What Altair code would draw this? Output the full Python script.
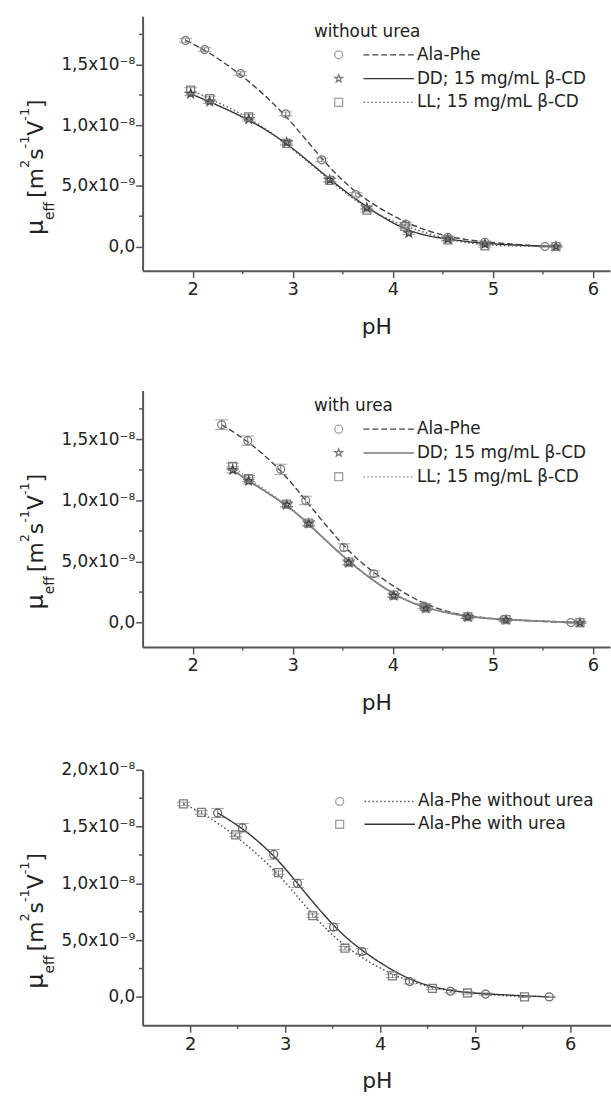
import altair as alt
import pandas as pd

FONT = "DejaVu Sans"
TXT = "#222222"
AX = "#555555"
MK = "#7a7a7a"

# ---------------- data (mobility in m^2 s^-1 V^-1) ----------------
# Panel 1 : without urea
p1_ala_ph = [1.93, 2.12, 2.48, 2.93, 3.29, 3.63, 4.13, 4.55, 4.92, 5.52]
p1_ala_mu = [1.70e-8, 1.625e-8, 1.427e-8, 1.095e-8, 7.15e-9, 4.29e-9, 1.85e-9, 0.75e-9, 0.35e-9, 0.0]
p1_ala_err = [0.15e-9, 0.15e-9, 0.15e-9, 0.15e-9, 0.15e-9, 0.15e-9, 0.15e-9, 0.1e-9, 0.1e-9, 0.05e-9]

p1_dd_ph = [1.98, 2.17, 2.56, 2.94, 3.37, 3.74, 4.16, 4.55, 4.92, 5.63]
p1_dd_mu = [1.26e-8, 1.195e-8, 1.05e-8, 8.6e-9, 5.5e-9, 3.2e-9, 1.1e-9, 0.6e-9, 0.2e-9, 0.0]
p1_dd_err = [0.15e-9, 0.15e-9, 0.15e-9, 0.15e-9, 0.15e-9, 0.15e-9, 0.1e-9, 0.1e-9, 0.1e-9, 0.05e-9]

p1_ll_ph = [1.98, 2.17, 2.56, 2.94, 3.37, 3.74, 4.12, 4.55, 4.92, 5.63]
p1_ll_mu = [1.29e-8, 1.22e-8, 1.07e-8, 8.5e-9, 5.45e-9, 3.0e-9, 1.65e-9, 0.55e-9, 0.05e-9, 0.0]
p1_ll_err = [0.2e-9, 0.2e-9, 0.2e-9, 0.15e-9, 0.15e-9, 0.15e-9, 0.15e-9, 0.1e-9, 0.1e-9, 0.05e-9]

# Panel 2 : with urea
p2_ala_ph = [2.29, 2.55, 2.88, 3.13, 3.51, 3.81, 4.31, 4.74, 5.11, 5.78]
p2_ala_mu = [1.62e-8, 1.49e-8, 1.255e-8, 1.0e-8, 6.15e-9, 4.0e-9, 1.35e-9, 0.5e-9, 0.25e-9, 0.0]
p2_ala_err = [0.4e-9, 0.38e-9, 0.42e-9, 0.35e-9, 0.3e-9, 0.25e-9, 0.2e-9, 0.15e-9, 0.1e-9, 0.05e-9]

p2_dd_ph = [2.40, 2.56, 2.94, 3.16, 3.56, 4.01, 4.33, 4.75, 5.13, 5.87]
p2_dd_mu = [1.25e-8, 1.16e-8, 9.65e-9, 8.1e-9, 4.9e-9, 2.2e-9, 1.15e-9, 0.45e-9, 0.22e-9, 0.0]
p2_dd_err = [0.25e-9, 0.25e-9, 0.2e-9, 0.2e-9, 0.2e-9, 0.15e-9, 0.15e-9, 0.1e-9, 0.1e-9, 0.05e-9]

p2_ll_ph = [2.40, 2.56, 2.94, 3.16, 3.56, 4.01, 4.33, 4.75, 5.13, 5.87]
p2_ll_mu = [1.28e-8, 1.18e-8, 9.7e-9, 8.15e-9, 4.95e-9, 2.25e-9, 1.2e-9, 0.48e-9, 0.25e-9, 0.0]
p2_ll_err = [0.25e-9, 0.25e-9, 0.2e-9, 0.2e-9, 0.2e-9, 0.15e-9, 0.15e-9, 0.1e-9, 0.1e-9, 0.05e-9]

# axis ticks and labels
x_ticks = [2, 3, 4, 5, 6]
x_minor = [2.5, 3.5, 4.5, 5.5]
y_ticks_12 = [0.0, 5e-9, 1e-8, 1.5e-8]
y_labels_12 = ["0,0", "5,0x10\u207b\u2079", "1,0x10\u207b\u2078", "1,5x10\u207b\u2078"]
y_minor_12 = [2.5e-9, 7.5e-9, 1.25e-8, 1.75e-8]
y_ticks_3 = [0.0, 5e-9, 1e-8, 1.5e-8, 2e-8]
y_labels_3 = ["0,0", "5,0x10\u207b\u2079", "1,0x10\u207b\u2078", "1,5x10\u207b\u2078", "2,0x10\u207b\u2078"]
y_minor_3 = [2.5e-9, 7.5e-9, 1.25e-8, 1.75e-8]

STAR = ("M0,-1L0.235,-0.324L0.951,-0.309L0.38,0.124L0.588,0.809L0,0.4"
        "L-0.588,0.809L-0.38,0.124L-0.951,-0.309L-0.235,-0.324Z")

DASHED = [6, 3]
DOTTED = [1.5, 2.5]
SOLID = [1, 0]

ONE = pd.DataFrame({"a": [0]})


def label_expr(vals, labels):
    parts = [f"round(datum.value*1e10) == {round(v * 1e10)} ? '{l}'" for v, l in zip(vals, labels)]
    return " : ".join(parts) + " : ''"


def panel(series, legend_title, legend_rows, xdom, ydom, yticks, ylabels, yminor,
          W, H, lx):
    xs = alt.Scale(domain=xdom, nice=False, zero=False)
    ys = alt.Scale(domain=ydom, nice=False, zero=False)
    xaxis = alt.Axis(values=x_ticks, format="d", title="pH", grid=False,
                     tickSize=7, tickWidth=1.5, tickColor=AX, domainColor=AX, domainWidth=2,
                     labelFont=FONT, labelFontSize=18, labelColor=TXT, labelPadding=3,
                     titleFont=FONT, titleFontSize=22, titleFontWeight="normal",
                     titleColor=TXT, titlePadding=18)
    yaxis = alt.Axis(values=yticks, labelExpr=label_expr(yticks, ylabels), title=None,
                     grid=False, tickSize=7, tickWidth=1.5, tickColor=AX, domainColor=AX,
                     domainWidth=2, labelFont=FONT, labelFontSize=17, labelColor=TXT,
                     labelPadding=1)
    X = lambda f: alt.X(f, scale=xs, axis=xaxis)
    Y = lambda f: alt.Y(f, scale=ys, axis=yaxis)

    lines, bars, pts = [], [], []
    for s in series:
        df = pd.DataFrame({"pH": s["ph"], "mu": s["mu"]})
        df["lo"] = [m - e for m, e in zip(s["mu"], s["err"])]
        df["hi"] = [m + e for m, e in zip(s["mu"], s["err"])]
        base = alt.Chart(df)
        lines.append(base.mark_line(interpolate="basis", color=s["lc"],
                                    strokeWidth=s.get("lw", 1.4), strokeDash=s["dash"])
                     .encode(x=X("pH:Q"), y=Y("mu:Q")))
        bars.append(base.mark_rule(color=MK, strokeWidth=1).encode(
            x=X("pH:Q"), y=Y("lo:Q"), y2="hi:Q"))
        for f in ["lo", "hi"]:
            bars.append(base.mark_tick(orient="horizontal", color=MK, size=13, thickness=1)
                        .encode(x=X("pH:Q"), y=Y(f + ":Q")))
        pts.append(base.mark_point(shape=s["shape"], size=s.get("size", 64), filled=False,
                                   color=s["mc"], strokeWidth=1.3, opacity=1)
                   .encode(x=X("pH:Q"), y=Y("mu:Q")))

    minors = [
        alt.Chart(pd.DataFrame({"v": yminor})).mark_rule(color=AX, strokeWidth=1.5)
        .encode(y=Y("v:Q"), x=alt.value(0), x2=alt.value(-3.5)),
        alt.Chart(pd.DataFrame({"v": x_minor})).mark_rule(color=AX, strokeWidth=1.5)
        .encode(x=X("v:Q"), y=alt.value(H), y2=alt.value(H + 3.5)),
    ]

    leg = []
    if legend_title:
        leg.append(alt.Chart(ONE).mark_text(font=FONT, fontSize=17, color=TXT, align="left",
                                            baseline="middle")
                   .encode(x=alt.value(lx - 25), y=alt.value(16), text=alt.value(legend_title)))
    for (txt, shape, dash, lc, mc, ly) in legend_rows:
        leg.append(alt.Chart(ONE).mark_point(shape=shape, size=64, filled=False, color=mc,
                                             strokeWidth=1.3)
                   .encode(x=alt.value(lx), y=alt.value(ly)))
        leg.append(alt.Chart(ONE).mark_rule(color=lc, strokeWidth=1.4, strokeDash=dash)
                   .encode(x=alt.value(lx + 25), x2=alt.value(lx + 76), y=alt.value(ly)))
        leg.append(alt.Chart(ONE).mark_text(font=FONT, fontSize=17, color=TXT, align="left",
                                            baseline="middle")
                   .encode(x=alt.value(lx + 79), y=alt.value(ly), text=alt.value(txt)))

    # rotated y title: mu_eff [m^2 s^-1 V^-1]
    pieces = [("\u03bc", 24, 0.636, -101, 0),
              ("eff", 14, 1.319, -89, 4),
              ("[m", 22, 1.364, -101, 0),
              ("2", 13, 0.636, -115, 0),
              ("s", 22, 0.521, -101, 0),
              ("-1", 13, 0.997, -115, 0),
              ("V", 22, 0.684, -101, 0),
              ("-1", 13, 0.997, -115, 0),
              ("]", 22, 0.390, -101, 0)]
    ttl = []
    y0 = 221
    for (t, fs, em, bx, gap) in pieces:
        ttl.append(alt.Chart(ONE).mark_text(font=FONT, fontSize=fs, color=TXT, angle=270,
                                            align="left", baseline="alphabetic")
                   .encode(x=alt.value(bx), y=alt.value(y0), text=alt.value(t)))
        y0 -= fs * em + gap

    return alt.layer(*minors, *lines, *bars, *pts, *leg, *ttl).properties(width=W, height=H)


p1 = panel(
    [dict(ph=p1_ala_ph, mu=p1_ala_mu, err=p1_ala_err, shape="circle", dash=DASHED, lc="#444444", mc=MK),
     dict(ph=p1_dd_ph, mu=p1_dd_mu, err=p1_dd_err, shape=STAR, dash=SOLID, lc="#333333", mc="#444444", size=80),
     dict(ph=p1_ll_ph, mu=p1_ll_mu, err=p1_ll_err, shape="square", dash=DOTTED, lc="#555555", mc=MK)],
    "without urea",
    [("Ala-Phe", "circle", DASHED, "#444444", MK, 39),
     ("DD; 15 mg/mL \u03b2-CD", STAR, SOLID, "#333333", "#444444", 63),
     ("LL; 15 mg/mL \u03b2-CD", "square", DOTTED, "#666666", MK, 87)],
    [1.5, 6.17], [-2e-9, 1.9e-8], y_ticks_12, y_labels_12, y_minor_12, 472, 257, 198)

p2 = panel(
    [dict(ph=p2_ala_ph, mu=p2_ala_mu, err=p2_ala_err, shape="circle", dash=DASHED, lc="#444444", mc=MK),
     dict(ph=p2_dd_ph, mu=p2_dd_mu, err=p2_dd_err, shape=STAR, dash=SOLID, lc="#7a7a7a", mc="#444444", size=80, lw=1.8),
     dict(ph=p2_ll_ph, mu=p2_ll_mu, err=p2_ll_err, shape="square", dash=DOTTED, lc="#999999", mc=MK)],
    "with urea",
    [("Ala-Phe", "circle", DASHED, "#444444", MK, 39),
     ("DD; 15 mg/mL \u03b2-CD", STAR, SOLID, "#7a7a7a", "#444444", 63),
     ("LL; 15 mg/mL \u03b2-CD", "square", DOTTED, "#999999", MK, 87)],
    [1.5, 6.17], [-2e-9, 1.9e-8], y_ticks_12, y_labels_12, y_minor_12, 472, 259, 198)

p3 = panel(
    [dict(ph=p1_ala_ph, mu=p1_ala_mu, err=p1_ala_err, shape="square", dash=DOTTED, lc="#555555", mc=MK, lw=1.6),
     dict(ph=p2_ala_ph, mu=p2_ala_mu, err=p2_ala_err, shape="circle", dash=SOLID, lc="#333333", mc="#666666")],
    None,
    [("Ala-Phe without urea", "circle", DOTTED, "#555555", MK, 32),
     ("Ala-Phe with urea", "square", SOLID, "#333333", MK, 55)],
    [1.5, 6.43], [-2.5e-9, 2.0e-8], y_ticks_3, y_labels_3, y_minor_3, 473, 258, 199)

top = alt.vconcat(p1, p2, spacing=54)
chart = alt.vconcat(top, p3, spacing=48).configure_view(stroke=None).properties(
    padding={"left": 19, "top": 11, "right": 0, "bottom": 0},
    background="white",
)

chart.save("out.html", embed_options={"renderer": "svg", "actions": False})
